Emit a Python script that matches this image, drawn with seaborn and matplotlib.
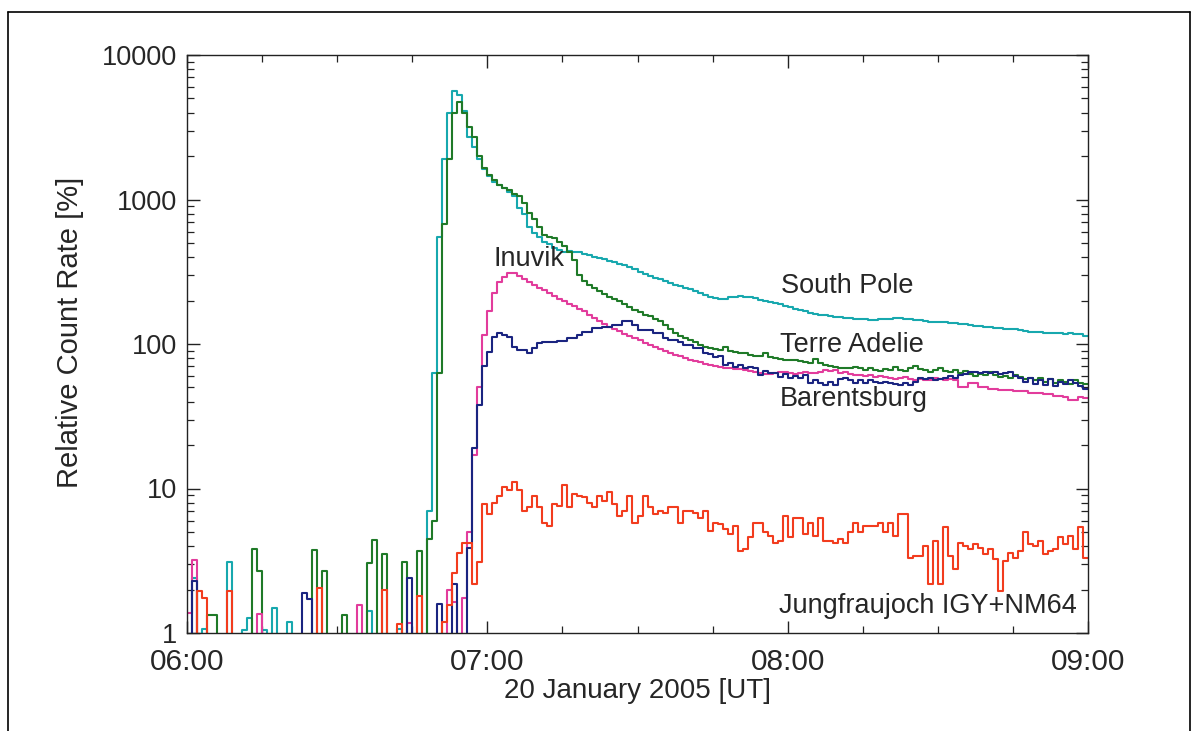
import numpy as np
import pandas as pd
import matplotlib
matplotlib.use("Agg")
import matplotlib.pyplot as plt
import seaborn as sns
from matplotlib.ticker import FixedLocator, LogLocator, NullFormatter, FixedFormatter, MultipleLocator
from matplotlib.lines import Line2D

sns.set_style("ticks")
plt.rcParams["font.family"] = ["Liberation Sans", "DejaVu Sans"]

# 1-minute bins starting at 06:00 UT, 20 January 2005 (values in %, 0.5 = below axis)
south_pole = [
    0.5, 2.4, 0.5, 1.07, 0.5, 0.5, 0.5, 0.5, 3.1, 0.5,
    0.5, 1.05, 1.27, 0.5, 0.5, 1.05, 0.5, 1.5, 0.5, 0.5,
    1.2, 0.5, 0.5, 0.5, 0.5, 0.5, 0.5, 0.5, 0.5, 0.5,
    0.5, 0.5, 0.5, 0.5, 0.5, 0.5, 1.42, 0.5, 0.5, 0.5,
    0.5, 0.5, 1.07, 0.5, 0.5, 0.5, 0.5, 0.5, 7, 63,
    550, 1900, 4000, 5600, 5300, 4100, 2700, 2300, 1900, 1620,
    1450, 1330, 1260, 1200, 1130, 1050, 880, 790, 650, 590,
    550, 510, 490, 465, 445, 430, 440, 435, 430, 420,
    410, 402, 395, 385, 375, 368, 360, 350, 340, 328,
    315, 305, 295, 288, 280, 272, 265, 258, 252, 246,
    240, 232, 225, 218, 212, 208, 206, 205, 210, 212,
    215, 213, 210, 207, 203, 199, 195, 191, 188, 184,
    180, 176, 172, 168, 165, 162, 160, 158, 156, 154,
    153, 152, 151, 150, 149, 148, 147, 147, 148, 149,
    150, 151, 151, 150, 149, 147, 146, 144, 143, 142,
    142, 141, 140, 139, 138, 137, 135, 134, 133, 132,
    131, 130, 129, 128, 127, 126, 125, 124, 122, 121,
    121, 120, 120, 119, 119, 118, 119, 118, 117, 114,
]

terre_adelie = [
    0.5, 0.5, 0.5, 0.5, 1.33, 1.33, 0.5, 0.5, 0.5, 0.5,
    0.5, 0.5, 0.5, 3.8, 2.7, 0.5, 0.5, 0.5, 0.5, 0.5,
    0.5, 0.5, 0.5, 0.5, 0.5, 3.75, 0.5, 2.7, 0.5, 0.5,
    0.5, 1.33, 0.5, 0.5, 0.5, 0.5, 3.07, 4.4, 0.5, 3.5,
    0.5, 0.5, 0.5, 3.1, 0.5, 0.5, 3.7, 0.5, 4.5, 6,
    63, 680, 1900, 4000, 4700, 4000, 3150, 2700, 2000, 1650,
    1480, 1370, 1260, 1200, 1170, 1100, 1050, 950, 810, 730,
    650, 570, 550, 540, 510, 480, 430, 380, 300, 275,
    255, 243, 233, 222, 212, 205, 197, 188, 180, 172,
    166, 160, 155, 150, 145, 135, 127, 120, 114, 110,
    107, 103, 98, 96, 94, 92, 91, 96, 89, 88,
    87, 86, 84, 83, 82, 87, 81, 80, 79, 78,
    78, 77, 76, 75, 74, 79, 74, 72, 70, 69,
    68, 68, 68, 69, 68, 66, 68, 66, 65, 67,
    66, 69, 66, 65, 68, 70, 67, 66, 64, 66,
    68, 65, 64, 66, 63, 65, 62, 60, 62, 61,
    64, 61, 59, 60, 58, 61, 59, 57, 58, 56,
    58, 55, 57, 54, 56, 55, 53, 56, 54, 53,
]

inuvik = [
    1.38, 3.2, 0.5, 0.5, 0.5, 0.5, 0.5, 0.5, 0.5, 0.5,
    0.5, 0.5, 0.5, 0.5, 1.35, 0.5, 0.5, 0.5, 0.5, 0.5,
    0.5, 0.5, 0.5, 0.5, 0.5, 0.5, 0.5, 0.5, 0.5, 0.5,
    0.5, 0.5, 0.5, 0.5, 1.56, 0.5, 0.5, 0.5, 0.5, 0.5,
    0.5, 0.5, 0.5, 0.5, 1.18, 0.5, 0.5, 0.5, 0.5, 0.5,
    0.5, 0.5, 2.0, 1.65, 0.5, 1.74, 4.97, 17, 50, 115,
    170, 225, 270, 290, 310, 310, 295, 280, 270, 258,
    245, 235, 225, 215, 205, 197, 190, 182, 175, 168,
    160, 152, 145, 138, 132, 127, 123, 118, 113, 110,
    106, 102, 99, 95, 92, 89, 86, 84, 82, 80,
    78, 76, 75, 73, 71, 70, 69, 68, 68, 67,
    67, 66, 65, 64, 63, 62, 62, 63, 64, 64,
    63, 62, 63, 64, 63, 63, 64, 66, 65, 66,
    63, 64, 62, 61, 61, 60, 61, 59, 60, 59,
    58, 57, 58, 59, 57, 56, 57, 56, 56, 58,
    57, 56, 57, 56, 50, 50, 54, 54, 50, 50,
    49, 49, 48, 48, 48, 47, 47, 47, 46, 46,
    46, 45, 45, 44, 44, 43, 41, 41, 43, 42,
]

barentsburg = [
    0.5, 2.3, 0.5, 0.5, 0.5, 0.5, 0.5, 0.5, 0.5, 0.5,
    0.5, 0.5, 0.5, 0.5, 0.5, 0.5, 0.5, 0.5, 0.5, 0.5,
    0.5, 0.5, 0.5, 1.9, 1.72, 0.5, 0.5, 0.5, 0.5, 0.5,
    0.5, 0.5, 0.5, 0.5, 0.5, 0.5, 0.5, 0.5, 0.5, 0.5,
    0.5, 0.5, 0.5, 0.5, 2.4, 0.5, 0.5, 0.5, 0.5, 0.5,
    1.6, 0.5, 0.5, 2.2, 0.5, 0.5, 3.9, 19, 38, 70,
    88, 111, 120, 116, 111, 95, 91, 91, 87, 94,
    102, 103, 103, 103, 105, 105, 110, 110, 116, 121,
    121, 129, 129, 131, 131, 135, 135, 144, 144, 135,
    125, 125, 125, 120, 120, 110, 107, 107, 104, 98,
    98, 94, 94, 87, 85, 81, 82, 71, 74, 69,
    72, 68, 69, 68, 61, 65, 63, 63, 59, 62,
    58, 60, 58, 61, 54, 56, 54, 52, 55, 52,
    57, 58, 56, 54, 56, 54, 56, 55, 54, 55,
    54, 53, 52, 54, 52, 55, 58, 57, 58, 56,
    57, 58, 60, 58, 61, 62, 64, 64, 63, 64,
    63, 64, 62, 63, 64, 60, 58, 55, 58, 53,
    56, 52, 57, 51, 55, 53, 56, 54, 51, 49,
]

jungfraujoch = [
    0.5, 0.5, 1.95, 1.75, 0.5, 0.5, 0.5, 0.5, 1.95, 0.5,
    0.5, 0.5, 0.5, 0.5, 0.5, 0.5, 0.5, 0.5, 0.5, 0.5,
    0.5, 0.5, 0.5, 0.5, 0.5, 0.5, 2.06, 0.5, 0.5, 0.5,
    0.5, 0.5, 0.5, 0.5, 0.5, 0.5, 0.5, 0.5, 0.5, 2.0,
    0.5, 0.5, 1.15, 0.5, 0.5, 0.5, 1.8, 0.5, 0.5, 0.5,
    0.5, 1.2, 1.55, 2.6, 3.6, 4.2, 4.2, 2.2, 3.1, 7.8,
    6.7, 8.0, 8.9, 10.2, 9.7, 11.1, 9.7, 7.0, 7.4, 8.9,
    7.4, 5.8, 5.5, 7.8, 7.6, 10.5, 7.4, 9.2, 8.9, 8.7,
    8.0, 7.4, 8.9, 8.2, 9.4, 7.8, 6.5, 7.0, 8.9, 5.8,
    6.5, 8.9, 7.4, 6.7, 7.0, 6.8, 7.4, 7.4, 5.8, 7.0,
    7.0, 6.8, 6.2, 7.0, 5.1, 5.8, 5.7, 5.25, 4.85, 5.5,
    3.7, 3.8, 4.6, 5.8, 5.8, 4.97, 4.7, 4.2, 4.35, 6.5,
    4.6, 6.2, 6.2, 4.85, 5.8, 4.7, 6.2, 4.35, 4.35, 4.2,
    4.5, 4.2, 4.97, 5.8, 4.97, 5.5, 5.5, 5.5, 5.8, 4.97,
    5.8, 4.7, 6.7, 6.7, 3.3, 3.4, 3.4, 4.0, 2.18, 4.35,
    2.18, 5.4, 3.4, 2.77, 4.2, 4.0, 3.8, 4.1, 3.9, 3.5,
    3.8, 3.25, 1.96, 3.16, 3.6, 3.3, 3.7, 4.97, 4.1, 4.0,
    4.35, 3.5, 3.7, 3.8, 4.6, 4.1, 4.7, 3.8, 5.4, 3.3,
]

stations = ["South Pole", "Terre Adelie", "Inuvik", "Barentsburg", "Jungfraujoch IGY+NM64"]
series = [south_pole, terre_adelie, inuvik, barentsburg, jungfraujoch]
colors = {
    "South Pole": "#17a8ae",
    "Terre Adelie": "#1f7a28",
    "Inuvik": "#e23c9c",
    "Barentsburg": "#1a2480",
    "Jungfraujoch IGY+NM64": "#f23c1e",
}

# long table, last value repeated so the last step reaches 09:00
frames = []
for name, vals in zip(stations, series):
    frames.append(pd.DataFrame({
        "minute": np.arange(len(vals) + 1),
        "rate": list(vals) + [vals[-1]],
        "station": name,
    }))
df = pd.concat(frames, ignore_index=True)

W, H = 1197, 731
fig = plt.figure(figsize=(W / 100, H / 100), dpi=100)
ax = fig.add_axes([187 / W, 1 - 633 / H, (1088 - 187) / W, (633 - 55) / H])

sns.lineplot(data=df, x="minute", y="rate", hue="station", hue_order=stations,
             palette=colors, drawstyle="steps-post", estimator=None, sort=False,
             linewidth=1.5, legend=False, ax=ax)

ax.set_yscale("log")
ax.set_ylim(1, 10000)
ax.set_xlim(0, 180)

# ticks, IDL style (inside, all four sides)
ax.xaxis.set_major_locator(FixedLocator([0, 60, 120, 180]))
ax.xaxis.set_major_formatter(FixedFormatter(["06:00", "07:00", "08:00", "09:00"]))
ax.xaxis.set_minor_locator(MultipleLocator(15))
ax.yaxis.set_major_locator(FixedLocator([1, 10, 100, 1000, 10000]))
ax.yaxis.set_major_formatter(FixedFormatter(["1", "10", "100", "1000", "10000"]))
ax.yaxis.set_minor_locator(LogLocator(base=10, subs=np.arange(2, 10)))
ax.yaxis.set_minor_formatter(NullFormatter())
ax.tick_params(which="both", direction="in", top=True, right=True, color="#222222")
ax.tick_params(which="major", length=9, width=1.0)
ax.tick_params(which="minor", length=5, width=0.9)
ax.tick_params(axis="x", which="major", labelsize=21.5, pad=11)
ax.tick_params(axis="y", which="major", labelsize=19.5, pad=7)
for s in ax.spines.values():
    s.set_linewidth(1.0)
    s.set_color("#222222")

ax.set_xlabel("20 January 2005 [UT]", fontsize=20)
ax.set_ylabel("Relative Count Rate [%]", fontsize=21)
ax.xaxis.set_label_coords(0.4995, -0.078)
ax.yaxis.set_label_coords(-0.114, 0.52)

# station labels
ax.text(118.6, 253, "South Pole", fontsize=19.5, ha="left", va="center")
ax.text(118.4, 98, "Terre Adelie", fontsize=19.5, ha="left", va="center")
ax.text(118.4, 41.5, "Barentsburg", fontsize=19.5, ha="left", va="center")
ax.text(61.3, 390, "Inuvik", fontsize=19.5, ha="left", va="center")
ax.text(118.2, 1.54, "Jungfraujoch IGY+NM64", fontsize=19.5, ha="left", va="center")

# outer frame of the figure (left, top, right)
for xs, ys in [([8, 8], [12, 731]), ([8, 1190], [12, 12]), ([1190, 1190], [12, 731])]:
    fig.add_artist(Line2D([x / W for x in xs], [1 - y / H for y in ys], color="black", linewidth=1.2))

fig.savefig("out.png", dpi=100)
